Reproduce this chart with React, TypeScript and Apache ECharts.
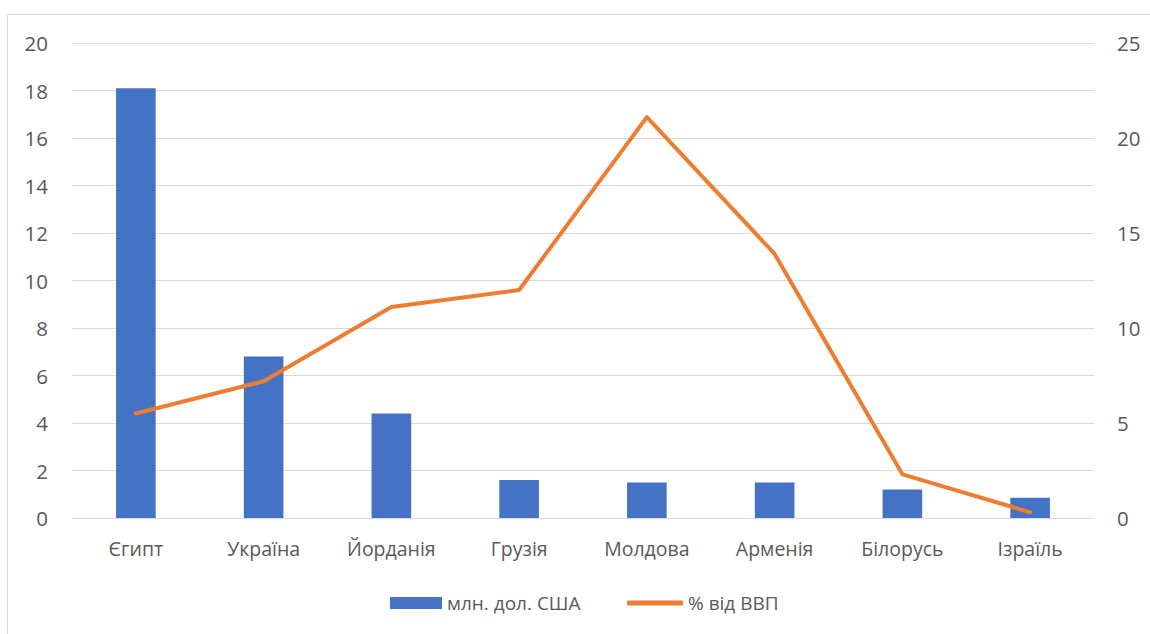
import React, { useEffect, useRef } from "react";
import * as echarts from "echarts";

const categories = ["Єгипт", "Україна", "Йорданія", "Грузія", "Молдова", "Арменія", "Білорусь", "Ізраїль"];
const usdMillions = [18.1, 6.8, 4.4, 1.6, 1.5, 1.5, 1.2, 0.85];
const pctGdp = [5.5, 7.2, 11.1, 12.0, 21.1, 13.9, 2.3, 0.3];
const seriesNames = ["млн. дол. США", "% від ВВП"];

const FONT = "'Open Sans', 'Noto Sans', sans-serif";
const TXT = "#595959";

export default function App() {
  const ref = useRef<HTMLDivElement>(null);
  useEffect(() => {
    const chart = echarts.init(ref.current!, null, { renderer: "svg" });
    const legendText = { color: TXT, fontSize: 19, fontFamily: FONT, lineHeight: 22 };
    chart.setOption({
      animation: false,
      backgroundColor: "#fff",
      textStyle: { fontFamily: FONT },
      graphic: [
        {
          type: "rect",
          shape: { x: 7.5, y: 14.5, width: 1200, height: 700 },
          style: { fill: "none", stroke: "#d9d9d9", lineWidth: 1 },
          silent: true,
        },
      ],
      grid: { left: 72, right: 56, top: 43, bottom: 116 },
      legend: [
        {
          left: 390,
          top: 592,
          padding: 0,
          itemWidth: 52,
          itemHeight: 12,
          textStyle: legendText,
          data: [{ name: seriesNames[0], icon: "rect" }],
        },
        {
          left: 627,
          top: 592,
          padding: 0,
          itemWidth: 56,
          itemHeight: 5,
          itemGap: 0,
          textStyle: legendText,
          data: [{ name: seriesNames[1], icon: "roundRect" }],
        },
      ],
      xAxis: {
        type: "category",
        data: categories,
        axisLine: { show: true, lineStyle: { color: "#d9d9d9" } },
        axisTick: { show: false },
        axisLabel: { color: TXT, fontSize: 19.5, margin: 20, fontFamily: FONT },
      },
      yAxis: [
        {
          type: "value",
          min: 0,
          max: 20,
          interval: 2,
          axisLine: { show: false },
          axisTick: { show: false },
          splitLine: { lineStyle: { color: "#d9d9d9", width: 1 } },
          axisLabel: { color: TXT, fontSize: 20.5, margin: 24, fontFamily: FONT },
        },
        {
          type: "value",
          min: 0,
          max: 25,
          interval: 5,
          axisLine: { show: false },
          axisTick: { show: false },
          splitLine: { show: false },
          axisLabel: { color: TXT, fontSize: 20.5, margin: 23, fontFamily: FONT },
        },
      ],
      series: [
        {
          name: seriesNames[0],
          type: "bar",
          data: usdMillions,
          barWidth: "31%",
          itemStyle: { color: "#4472c4" },
          yAxisIndex: 0,
        },
        {
          name: seriesNames[1],
          type: "line",
          data: pctGdp,
          yAxisIndex: 1,
          symbol: "none",
          lineStyle: { color: "#ed7d31", width: 4, cap: "round", join: "round" },
          itemStyle: { color: "#ed7d31" },
        },
      ],
    });
    return () => chart.dispose();
  }, []);
  return (
    <div
      ref={ref}
      style={{ position: "fixed", left: 0, top: 0, width: 1150, height: 634 }}
    />
  );
}
